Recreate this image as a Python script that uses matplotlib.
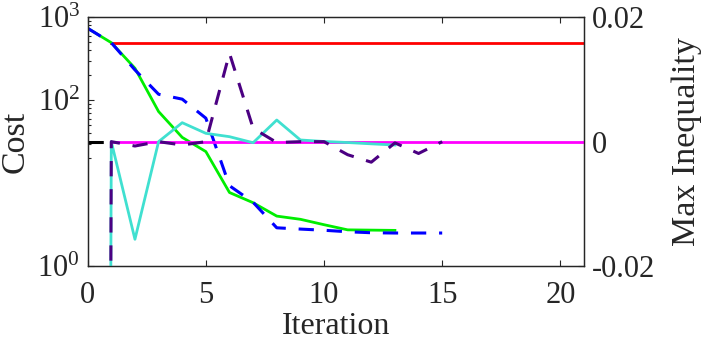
import numpy as np
import matplotlib
matplotlib.use('Agg')
import matplotlib.pyplot as plt
from matplotlib.ticker import FixedLocator, LogFormatterMathtext, NullFormatter

plt.rcParams['font.family'] = ['Liberation Serif', 'DejaVu Serif']
plt.rcParams['mathtext.fontset'] = 'custom'
plt.rcParams['mathtext.rm'] = 'Liberation Serif'
plt.rcParams['mathtext.it'] = 'Liberation Serif:italic'

# method A (13 iterations) / method B (15 iterations)
iter_a = list(range(0, 14))
iter_b = list(range(0, 16))
cost_a = [737, 494, 243, 73, 35.6, 24, 7.7, 5.8, 4.0, 3.66, 3.15, 2.73, 2.71, 2.69]
cost_b = [737, 494, 232, 118, 103, 60.7, 9.3, 5.87, 2.89, 2.79, 2.70, 2.59, 2.52, 2.50, 2.50, 2.50]
ineq_a = [-1.0, 0.0, -0.0157, 0.0, 0.00305, 0.00134, 0.0008, -0.00017, 0.00348,
          0.00027, 0.00003, -0.00014, -0.00035, -0.00054]
ineq_b = [-1.0, 0.0, -0.0007, 0.0, -0.00054, 0.0, 0.01421, 0.00215, -0.00014,
          0.0, 0.0, -0.0021, -0.0033, -0.0002, -0.0019, 0.0]
ref_iter = [1, 21]
ref_cost = [490, 490]
ref_ineq = [0.0, 0.0]
init_iter = [0, 1]
init_ineq = [0.0, 0.0]

txt = '#262626'
fig = plt.figure(figsize=(7.02, 3.44), dpi=100)
ax = fig.add_axes([0.1249, 0.2267, 0.7070, 0.7230])
ax2 = ax.twinx()

dash = (5, 4.2)
ax.plot(ref_iter, ref_cost, color='#ff0000', lw=2)
ax.plot(iter_a, cost_a, color='#00ee00', lw=2)
ax.plot(iter_b, cost_b, color='#0000ff', lw=2.2, ls='--', dashes=dash)

ax2.plot(ref_iter, ref_ineq, color='#ff00ff', lw=2)
ax2.plot(init_iter, init_ineq, color='black', lw=2.2, ls='--', dashes=dash)
ax2.plot(iter_a, ineq_a, color='#40e0d0', lw=2)
ax2.plot(iter_b, ineq_b, color='#4b0082', lw=2.2, ls='--', dashes=dash)

ax.set_yscale('log')
ax.set_ylim(1, 1000)
ax.set_xlim(0, 21)
ax.yaxis.set_major_locator(FixedLocator([1, 100, 1000]))
ax.yaxis.set_major_formatter(LogFormatterMathtext())
ax.yaxis.set_minor_locator(FixedLocator(list(range(20, 100, 10)) + list(range(200, 1000, 100))))
ax.yaxis.set_minor_formatter(NullFormatter())
ax.set_xticks([0, 5, 10, 15, 20])

ax2.set_ylim(-0.02, 0.02)
ax2.set_yticks([-0.02, 0, 0.02], ['-0.02', '0', '0.02'])

ax.tick_params(axis='both', which='both', direction='in', labelsize=22, colors=txt, width=0.8)
ax.tick_params(axis='x', top=True, pad=11, length=4)
ax.tick_params(axis='y', which='major', pad=5.5, length=4)
ax.tick_params(axis='y', which='minor', length=2.5)
ax2.tick_params(axis='y', direction='in', labelsize=22, colors=txt, pad=5.5, length=4, width=0.8)

for a in (ax, ax2):
    for s in a.spines.values():
        s.set_color(txt)
        s.set_linewidth(0.9)

ax.set_xlabel('Iteration', fontsize=23, color=txt)
ax.xaxis.set_label_coords(0.5, -0.185)
ax.set_ylabel('Cost', fontsize=24.5, color=txt)
ax.yaxis.set_label_coords(-0.115, 0.5)
ax2.set_ylabel('Max Inequality', fontsize=24.5, color=txt)
ax2.yaxis.set_label_coords(1.177, 0.5)

fig.savefig('out.png', dpi=100)
